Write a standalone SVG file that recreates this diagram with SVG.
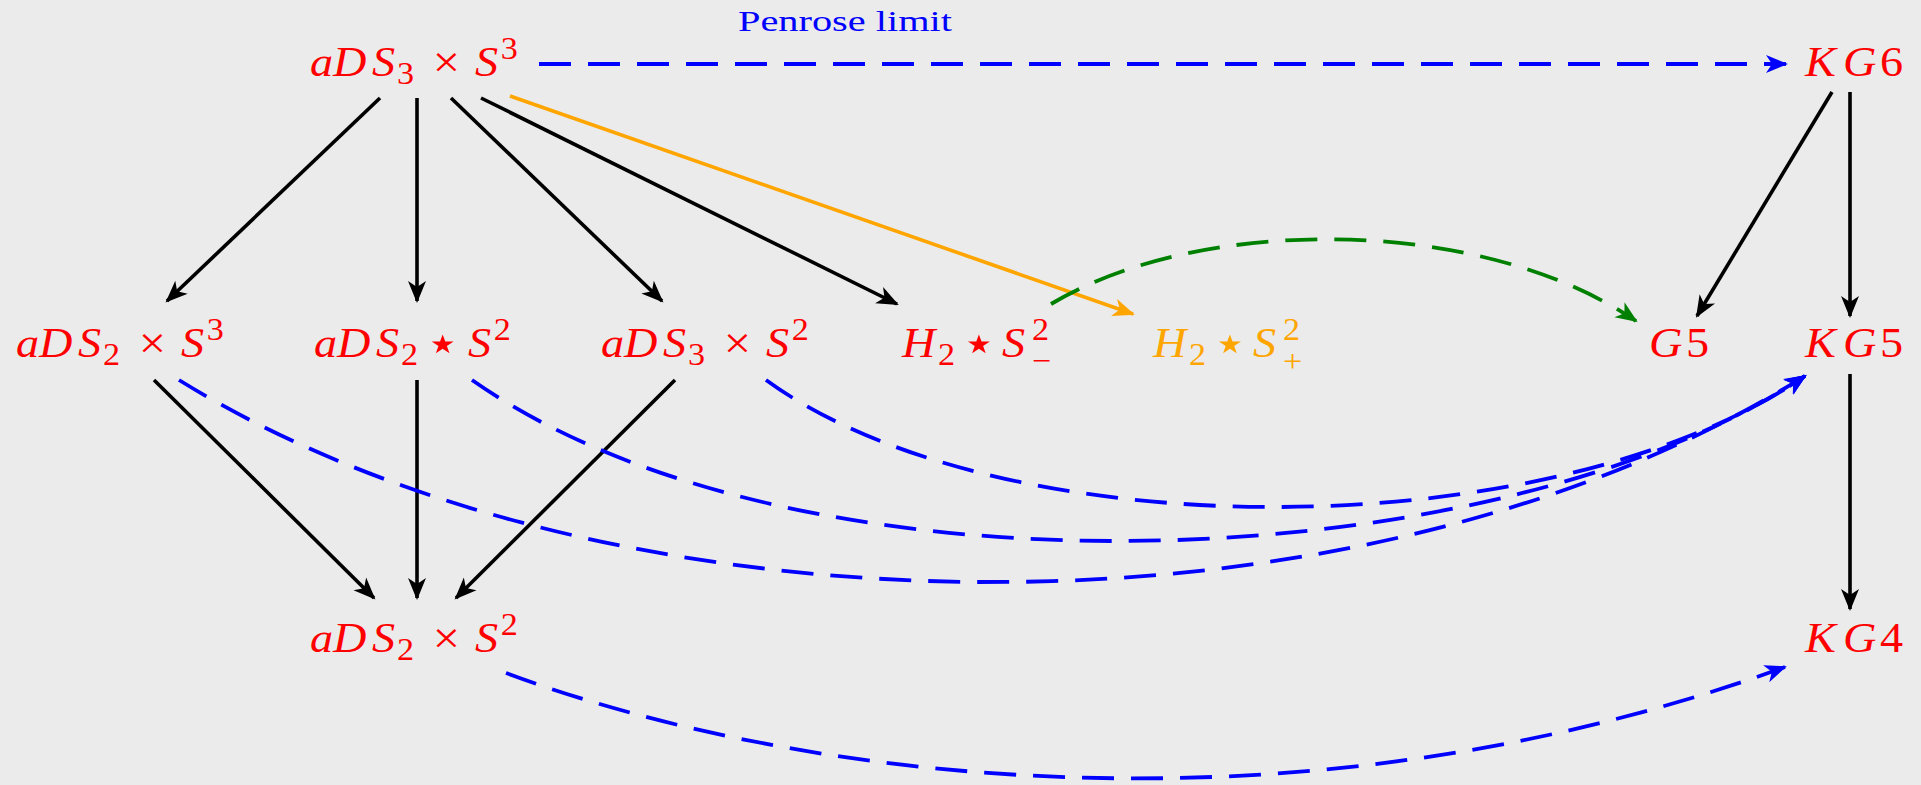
<svg xmlns="http://www.w3.org/2000/svg" width="1921" height="785" viewBox="0 0 1921 785">
<style>
.lbl{font-family:"Liberation Serif","DejaVu Serif",serif;font-size:42px;fill:#f00}
.or{fill:#ffa500}
.i{font-style:italic}
.s{font-size:31px}
.x{font-size:44px;text-anchor:middle}
.op{font-family:"DejaVu Sans",sans-serif;font-size:52px;text-anchor:middle}
.pl{font-family:"Liberation Serif","DejaVu Serif",serif;font-size:30px;fill:#00f}
.e{fill:none;stroke-width:3.6}
.k{stroke:#000}
.o{stroke:#ffa500}
.b{stroke:#00f;stroke-width:3.8;stroke-dasharray:32 17}
.g{stroke:#008000;stroke-width:3.8;stroke-dasharray:32 17}
</style>
<defs>
<marker id="ak" markerUnits="userSpaceOnUse" markerWidth="26" markerHeight="20" viewBox="0 0 26 20" refX="22" refY="10" orient="auto"><path d="M24,10 L2,1 L8,10 L2,19 Z" fill="#000"/></marker>
<marker id="ab" markerUnits="userSpaceOnUse" markerWidth="26" markerHeight="20" viewBox="0 0 26 20" refX="22" refY="10" orient="auto"><path d="M24,10 L2,1 L8,10 L2,19 Z" fill="#00f"/></marker>
<marker id="ao" markerUnits="userSpaceOnUse" markerWidth="26" markerHeight="20" viewBox="0 0 26 20" refX="22" refY="10" orient="auto"><path d="M24,10 L2,1 L8,10 L2,19 Z" fill="#ffa500"/></marker>
<marker id="ag" markerUnits="userSpaceOnUse" markerWidth="26" markerHeight="20" viewBox="0 0 26 20" refX="22" refY="10" orient="auto"><path d="M24,10 L2,1 L8,10 L2,19 Z" fill="#008000"/></marker>
</defs>
<rect width="1921" height="785" fill="#ebebeb"/>

<g id="connectors">
<line class="e k" x1="380" y1="98" x2="167" y2="301" marker-end="url(#ak)"/>
<line class="e k" x1="417" y1="98" x2="417" y2="301" marker-end="url(#ak)"/>
<line class="e k" x1="451" y1="98" x2="662" y2="301" marker-end="url(#ak)"/>
<line class="e k" x1="481" y1="98" x2="897" y2="304" marker-end="url(#ak)"/>
<line class="e o" x1="510" y1="96" x2="1133" y2="314" marker-end="url(#ao)"/>
<line class="e b" x1="539" y1="64" x2="1786" y2="64" marker-end="url(#ab)"/>
<text class="pl" x="738" y="31" textLength="214" lengthAdjust="spacingAndGlyphs">Penrose limit</text>
<line class="e k" x1="1832" y1="92" x2="1697" y2="316" marker-end="url(#ak)"/>
<line class="e k" x1="1850" y1="92" x2="1850" y2="316" marker-end="url(#ak)"/>
<path class="e g" d="M1051,304 C1200,215 1480,215 1636,321" marker-end="url(#ag)"/>
<line class="e k" x1="154" y1="380" x2="374" y2="598" marker-end="url(#ak)"/>
<line class="e k" x1="417" y1="380" x2="417" y2="598" marker-end="url(#ak)"/>
<line class="e k" x1="675" y1="380" x2="456" y2="598" marker-end="url(#ak)"/>
<line class="e k" x1="1850" y1="374" x2="1850" y2="609" marker-end="url(#ak)"/>
<path class="e b" d="M179,380 C600,640 1350,660 1805,376" marker-end="url(#ab)"/>
<path class="e b" d="M472,380 C800,610 1500,580 1805,376" marker-end="url(#ab)"/>
<path class="e b" d="M766,380 C1000,550 1550,550 1805,376" marker-end="url(#ab)"/>
<path class="e b" d="M506,673 C780,775 1280,850 1785,667" marker-end="url(#ab)"/>
</g>

<g id="n-ads3s3"><text class="lbl" transform="translate(310 76) scale(1.1 1)"><tspan class="i" x="0" y="0">a</tspan><tspan class="i" x="20.9" y="0">D</tspan><tspan class="i" x="56.4" y="0">S</tspan><tspan class="s" x="79.1" y="8">3</tspan><tspan class="x" x="124" y="1">×</tspan><tspan class="i" x="150" y="0">S</tspan><tspan class="s" x="173.5" y="-17">3</tspan></text></g>

<g id="n-kg6"><text class="lbl" transform="translate(1805 76) scale(1.1 1)"><tspan class="i" x="0" y="0">K</tspan><tspan class="i" x="34.5" y="0">G</tspan><tspan x="68.2" y="0">6</tspan></text></g>

<g id="n-ads2s3"><text class="lbl" transform="translate(16 357) scale(1.1 1)"><tspan class="i" x="0" y="0">a</tspan><tspan class="i" x="20.9" y="0">D</tspan><tspan class="i" x="56.4" y="0">S</tspan><tspan class="s" x="79.1" y="8">2</tspan><tspan class="x" x="124" y="1">×</tspan><tspan class="i" x="150" y="0">S</tspan><tspan class="s" x="173.5" y="-17">3</tspan></text></g>

<g id="n-ads2stars2"><text class="lbl" transform="translate(314 357) scale(1.1 1)"><tspan class="i" x="0" y="0">a</tspan><tspan class="i" x="20.9" y="0">D</tspan><tspan class="i" x="56.4" y="0">S</tspan><tspan class="s" x="79.1" y="8">2</tspan><tspan class="op" x="117" y="4">⋆</tspan><tspan class="i" x="140" y="0">S</tspan><tspan class="s" x="163.5" y="-17">2</tspan></text></g>

<g id="n-ads3s2"><text class="lbl" transform="translate(601 357) scale(1.1 1)"><tspan class="i" x="0" y="0">a</tspan><tspan class="i" x="20.9" y="0">D</tspan><tspan class="i" x="56.4" y="0">S</tspan><tspan class="s" x="79.1" y="8">3</tspan><tspan class="x" x="124" y="1">×</tspan><tspan class="i" x="150" y="0">S</tspan><tspan class="s" x="173.5" y="-17">2</tspan></text></g>

<g id="n-h2s2minus"><text class="lbl" transform="translate(902 357) scale(1.1 1)"><tspan class="i" x="0" y="0">H</tspan><tspan class="s" x="32.7" y="8">2</tspan><tspan class="op" x="70" y="4">⋆</tspan><tspan class="i" x="90.9" y="0">S</tspan><tspan class="s" x="118.2" y="-17">2</tspan><tspan class="s" x="118.2" y="14">−</tspan></text></g>

<g id="n-h2s2plus"><text class="lbl or" transform="translate(1153 357) scale(1.1 1)"><tspan class="i" x="0" y="0">H</tspan><tspan class="s" x="32.7" y="8">2</tspan><tspan class="op" x="70" y="4">⋆</tspan><tspan class="i" x="90.9" y="0">S</tspan><tspan class="s" x="118.2" y="-17">2</tspan><tspan class="s" x="118.2" y="15">+</tspan></text></g>

<g id="n-g5"><text class="lbl" transform="translate(1649 357) scale(1.1 1)"><tspan class="i" x="0" y="0">G</tspan><tspan x="33.6" y="0">5</tspan></text></g>

<g id="n-kg5"><text class="lbl" transform="translate(1805 357) scale(1.1 1)"><tspan class="i" x="0" y="0">K</tspan><tspan class="i" x="34.5" y="0">G</tspan><tspan x="68.2" y="0">5</tspan></text></g>

<g id="n-ads2s2"><text class="lbl" transform="translate(310 652) scale(1.1 1)"><tspan class="i" x="0" y="0">a</tspan><tspan class="i" x="20.9" y="0">D</tspan><tspan class="i" x="56.4" y="0">S</tspan><tspan class="s" x="79.1" y="8">2</tspan><tspan class="x" x="124" y="1">×</tspan><tspan class="i" x="150" y="0">S</tspan><tspan class="s" x="173.5" y="-17">2</tspan></text></g>

<g id="n-kg4"><text class="lbl" transform="translate(1805 652) scale(1.1 1)"><tspan class="i" x="0" y="0">K</tspan><tspan class="i" x="34.5" y="0">G</tspan><tspan x="68.2" y="0">4</tspan></text></g>
</svg>
